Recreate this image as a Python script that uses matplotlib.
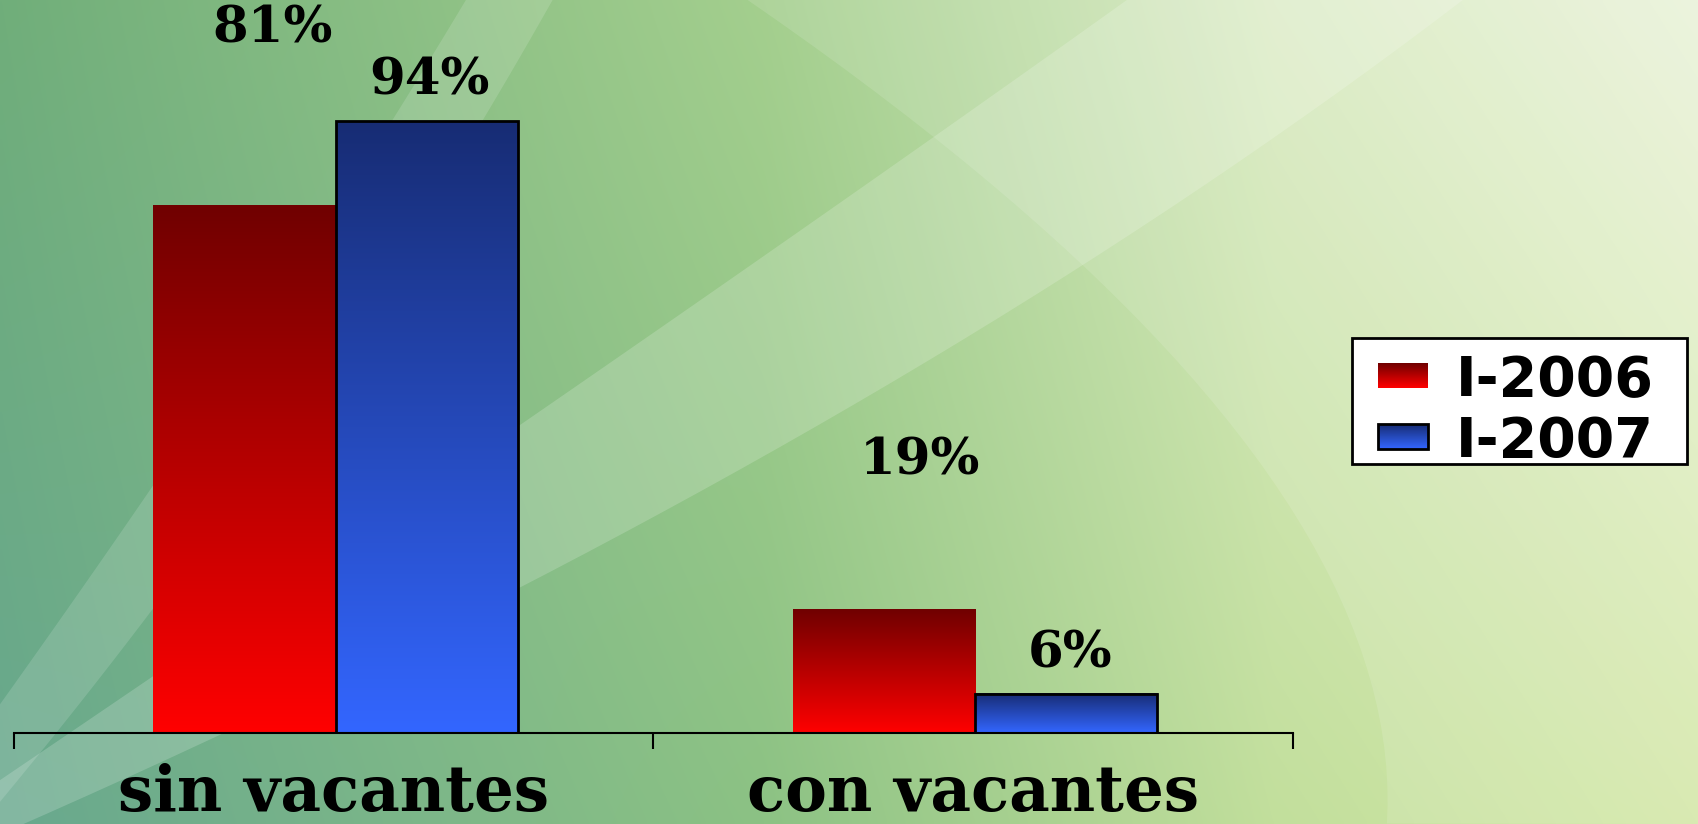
import numpy as np
import matplotlib
matplotlib.use("Agg")
import matplotlib.pyplot as plt
from matplotlib.colors import LinearSegmentedColormap, to_rgb
from matplotlib.patches import Polygon, Rectangle
from matplotlib.legend_handler import HandlerBase
from matplotlib.image import BboxImage
from matplotlib.transforms import Bbox, TransformedBbox

# data
categories = ["sin vacantes", "con vacantes"]
series = ["I-2006", "I-2007"]
v2006 = [81, 19]
v2007 = [94, 6]
labels2006 = ["81%", "19%"]
labels2007 = ["94%", "6%"]

# label offsets from bar top centre (pixels, x right / y up to baseline)
off2006 = [(28, 163), (36, 135)]
off2007 = [(3, 27), (4, 26)]

W, H = 1699, 824
fig = plt.figure(figsize=(W / 100, H / 100), dpi=100)

# ---- background (slide style) ----
bg = fig.add_axes([0, 0, 1, 1], zorder=-10)
bg.set_xlim(0, W)
bg.set_ylim(H, 0)
bg.axis("off")

def lerp_cols(stops, n):
    xs = np.linspace(0, 1, n)
    pos = [s[0] for s in stops]
    cols = np.array([to_rgb(s[1]) for s in stops])
    return np.stack([np.interp(xs, pos, cols[:, k]) for k in range(3)], axis=-1)

top = lerp_cols([(0, "#70ae7a"), (0.45, "#a4cf8e"), (0.75, "#d8eac0"), (1, "#eaf3da")], 400)
bot = lerp_cols([(0, "#68a88e"), (0.45, "#8cc284"), (0.75, "#c2df9c"), (1, "#d4e8a8")], 400)
t = np.linspace(0, 1, 200)[:, None, None]
grad = top[None, :, :] * (1 - t) + bot[None, :, :] * t
bg.imshow(grad, extent=[0, W, H, 0], aspect="auto", interpolation="bilinear")

s = 1699 / 1568.0

def quad(p0, c, p1, n=40):
    tt = np.linspace(0, 1, n)[:, None]
    p0, c, p1 = (np.array(p) * s for p in (p0, c, p1))
    return (1 - tt) ** 2 * p0 + 2 * (1 - tt) * tt * c + tt ** 2 * p1

# light diagonal band on the left
band_a = np.vstack([quad((0, 650), (250, 300), (430, 0)), quad((510, 0), (290, 390), (0, 740))])
bg.add_patch(Polygon(band_a, closed=True, fc="white", ec="none", alpha=0.14))
# long sweeping band to the top right
band_b = np.vstack([quad((0, 720), (620, 300), (1040, 0)), quad((1350, 0), (800, 420), (0, 770))])
bg.add_patch(Polygon(band_b, closed=True, fc="white", ec="none", alpha=0.18))
# large arc, lighter area on the right
arc = np.vstack([quad((690, 0), (1300, 420), (1280, 760)), [[W, H], [W, 0]]])
bg.add_patch(Polygon(arc, closed=True, fc="white", ec="none", alpha=0.12))

# ---- chart ----
ax = fig.add_axes([14 / W, 91 / H, 1279 / W, 733 / H])
ax.patch.set_alpha(0)

red_cmap = LinearSegmentedColormap.from_list("red", ["#700000", "#ff0000"])
blue_cmap = LinearSegmentedColormap.from_list("blue", ["#172c74", "#3366ff"])
gcol = np.linspace(0, 1, 256).reshape(-1, 1)

x = np.arange(len(categories))
w = 0.285
b1 = ax.bar(x - w + 0.003, v2006, w, align="edge", color="none", edgecolor="none", zorder=3)
b2 = ax.bar(x + 0.003, v2007, w, align="edge", color="none", edgecolor="black", linewidth=2, zorder=4)

for bars, cmap in ((b1, red_cmap), (b2, blue_cmap)):
    for r in bars:
        x0, y1 = r.get_x(), r.get_height()
        ax.imshow(gcol, cmap=cmap, extent=[x0, x0 + r.get_width(), 0, y1],
                  aspect="auto", interpolation="bilinear", zorder=2)

lab_font = dict(family="DejaVu Serif", fontweight="bold", fontsize=37)
for bars, labs, offs in ((b1, labels2006, off2006), (b2, labels2007, off2007)):
    for r, lab, (dx, dy) in zip(bars, labs, offs):
        ax.annotate(lab, (r.get_x() + r.get_width() / 2, r.get_height()),
                    xytext=(dx, dy), textcoords="offset pixels",
                    ha="center", va="baseline", **lab_font)

ax.set_xlim(-0.5, 1.5)
ax.set_ylim(0, 733 / 6.51)
for sp in ("top", "right", "left"):
    ax.spines[sp].set_visible(False)
ax.spines["bottom"].set_linewidth(1.5)
ax.set_yticks([])
ax.set_xticks(x)
ax.set_xticklabels(categories, family="DejaVu Serif", fontweight="bold", fontsize=45)
ax.set_xticks([-0.5, 0.5, 1.5], minor=True)
ax.tick_params(axis="x", which="major", length=0, pad=21.5)
ax.tick_params(axis="x", which="minor", length=11.5, width=1.5, direction="out")


class GradHandler(HandlerBase):
    # gradient swatch, 36x18 pt, right-aligned in the handle area, centred on cap height
    def __init__(self, cmap, edge):
        super().__init__()
        self.cmap = cmap
        self.edge = edge

    def create_artists(self, legend, orig_handle, xdescent, ydescent, width, height, fontsize, trans):
        bw, bh = 36, 18
        x0 = -xdescent + width - bw
        y0 = 0.365 * fontsize - bh / 2
        bb = TransformedBbox(Bbox.from_bounds(x0, y0, bw, bh), trans)
        img = BboxImage(bb, cmap=self.cmap, interpolation="bilinear")
        img.set_data(np.linspace(0, 1, 64).reshape(-1, 1))
        arts = [img]
        if self.edge != "none":
            arts.append(Rectangle((x0, y0), bw, bh, fc="none", ec=self.edge, lw=2, transform=trans))
        return arts


# legend frame drawn separately so its size matches the slide
fig.add_artist(Rectangle((1352 / W, 1 - 464 / H), 335 / W, 126 / H, transform=fig.transFigure,
                         fc="white", ec="black", lw=2, zorder=4))
h1 = Rectangle((0, 0), 1, 1)
h2 = Rectangle((0, 0), 1, 1)
leg = fig.legend([h1, h2], series, loc="upper left", bbox_to_anchor=(1356 / W, 1 - 354 / H),
                 handler_map={h1: GradHandler(red_cmap, "none"), h2: GradHandler(blue_cmap, "black")},
                 prop=dict(family="DejaVu Sans", weight="bold", size=40),
                 frameon=False, handlelength=1.3, handleheight=0.7, handletextpad=0.49,
                 labelspacing=0.13, borderpad=0, borderaxespad=0)
leg.set_zorder(5)

fig.savefig("out.png", dpi=100)
